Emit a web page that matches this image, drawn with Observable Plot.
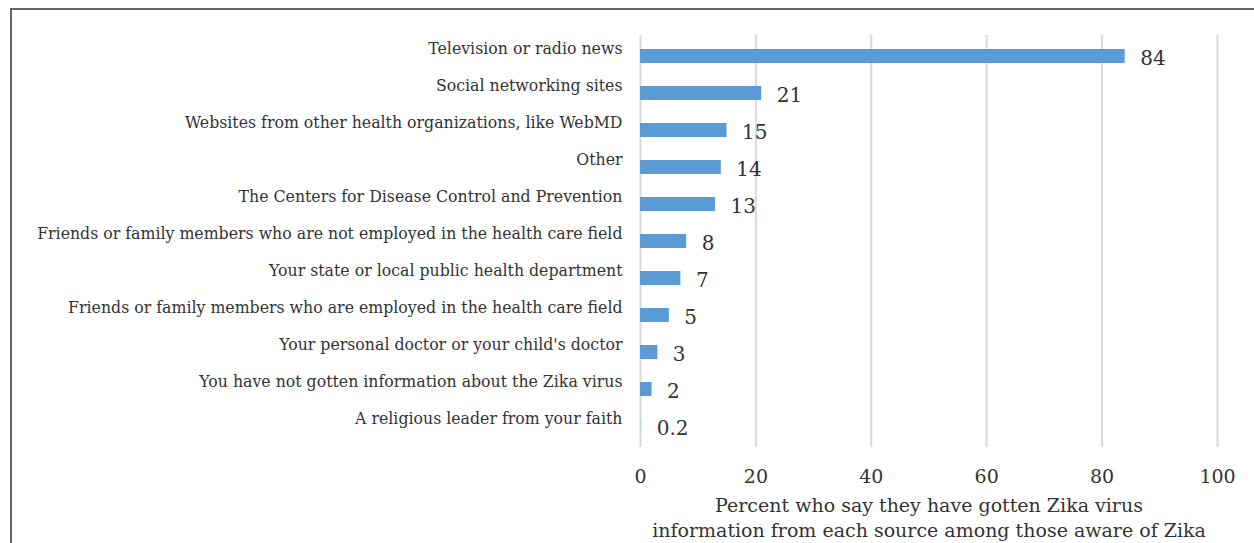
<!DOCTYPE html>
<html>
<head>
<meta charset="utf-8">
<script src="https://cdn.jsdelivr.net/npm/d3@7"></script>
<script src="https://cdn.jsdelivr.net/npm/@observablehq/plot@0.6"></script>
<style>
  html, body { margin: 0; padding: 0; background: #fff; overflow: hidden; }
  #wrap { position: relative; width: 1254px; height: 543px; }
  #frame { position: absolute; left: 10px; top: 8px; width: 1260px; height: 600px;
           border-left: 2px solid #666; border-top: 2px solid #666; pointer-events: none; }
</style>
</head>
<body>
<div id="wrap"><div id="frame"></div><div id="chart"></div></div>
<script>
const sources = [
  "Television or radio news",
  "Social networking sites",
  "Websites from other health organizations, like WebMD",
  "Other",
  "The Centers for Disease Control and Prevention",
  "Friends or family members who are not employed in the health care field",
  "Your state or local public health department",
  "Friends or family members who are employed in the health care field",
  "Your personal doctor or your child's doctor",
  "You have not gotten information about the Zika virus",
  "A religious leader from your faith"
];
const percents = [84, 21, 15, 14, 13, 8, 7, 5, 3, 2, 0.2];
const xTicks = [0, 20, 40, 60, 80, 100];
const xTitle = "Percent who say they have gotten Zika virus\ninformation from each source among those aware of Zika";

const data = sources.map((s, i) => ({source: s, value: percents[i]}));
const serif = "'DejaVu Serif', serif";

const chart = Plot.plot({
  width: 1254,
  height: 543,
  marginLeft: 640,
  marginRight: 37,
  marginTop: 35,
  marginBottom: 96,
  style: {fontFamily: serif, background: "transparent"},
  x: {domain: [0, 100], ticks: xTicks},
  y: {domain: sources, paddingInner: 0.63, paddingOuter: 0.315},
  marks: [
    Plot.gridX(xTicks, {stroke: "#d9d9d9", strokeOpacity: 1, strokeWidth: 2}),
    Plot.barX(data, {y: "source", x: "value", fill: d => d.value < 1 ? "#bdd7ee" : "#5b9bd5"}),
    Plot.text(data, {y: "source", x: "value", text: d => String(d.value), textAnchor: "start", dx: 15, dy: 2, fontSize: 20, fill: "#333"}),
    Plot.axisX(xTicks, {tickSize: 0, tickPadding: 22, fontSize: 19, fill: "#333", label: null}),
    Plot.axisY({tickSize: 0, tickPadding: 18, fontSize: 15.75, fill: "#333", dy: -8, label: null}),
    Plot.text([xTitle], {frameAnchor: "bottom", lineAnchor: "top", dy: 47, fontSize: 19, lineHeight: 1.3, fill: "#333"})
  ]
});
document.getElementById("chart").appendChild(chart);
</script>
</body>
</html>
